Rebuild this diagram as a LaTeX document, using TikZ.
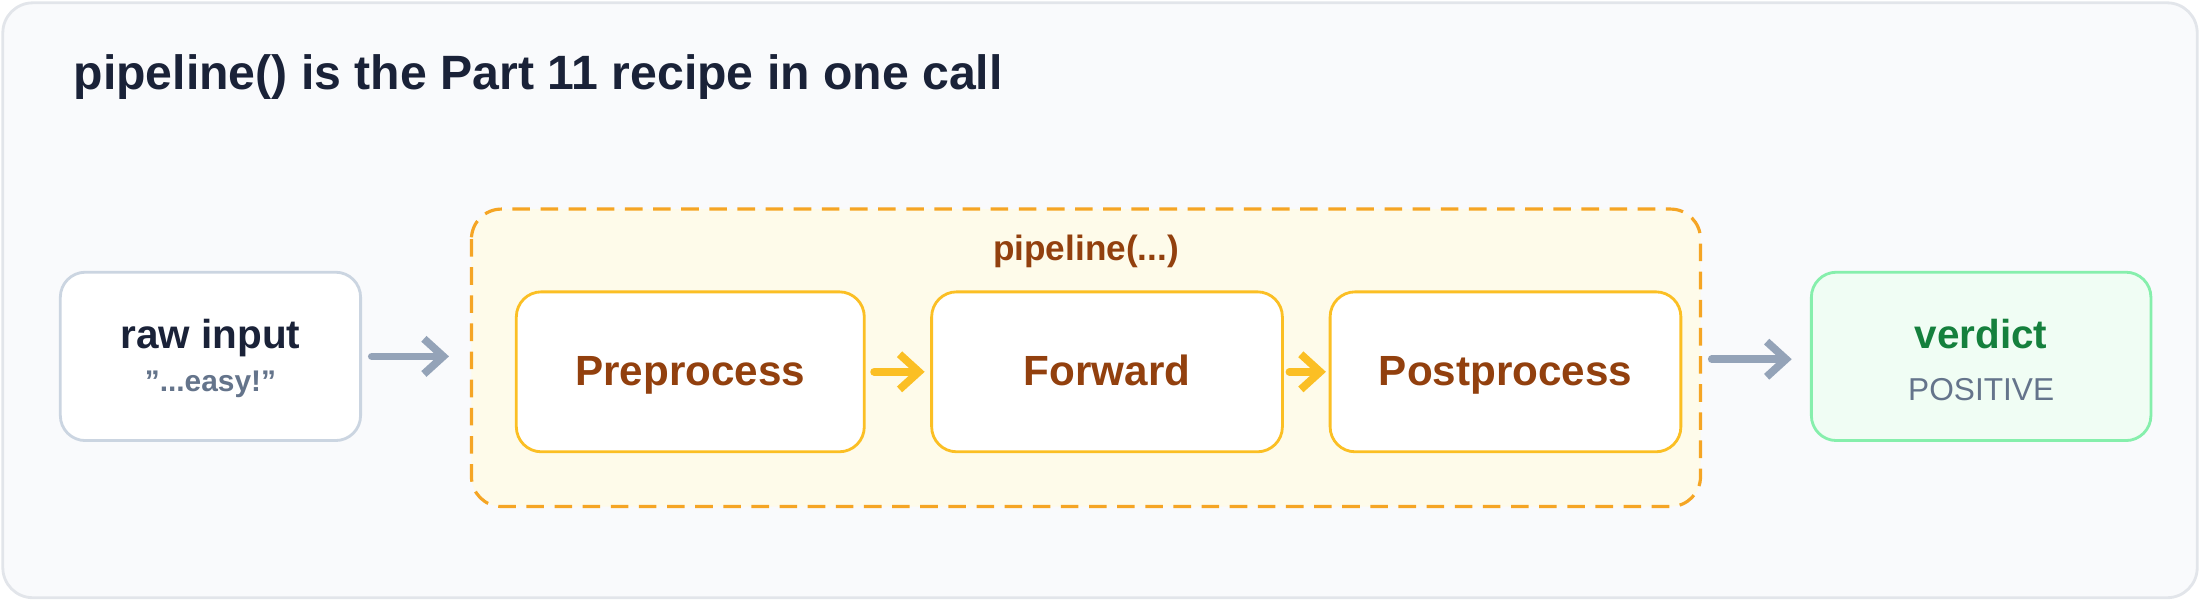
\documentclass[tikz,border=0pt]{standalone}
\usepackage{fontspec}
\setmainfont{Liberation Sans}
\usetikzlibrary{arrows.meta}
\definecolor{navy}{HTML}{1A2238}
\definecolor{brown}{HTML}{92400E}
\definecolor{slate}{HTML}{64748B}
\definecolor{grayarr}{HTML}{94A3B8}
\definecolor{yel}{HTML}{FBBF24}
\definecolor{org}{HTML}{F5A524}
\definecolor{grn}{HTML}{15803D}
\definecolor{bg}{HTML}{F9FAFC}
\definecolor{bgline}{HTML}{E2E5EA}
\definecolor{inbord}{HTML}{CBD5E1}
\definecolor{pipefill}{HTML}{FEFBEA}
\definecolor{vfill}{HTML}{F0FDF4}
\definecolor{vbord}{HTML}{86EFAC}
\begin{document}
\begin{tikzpicture}[x=0.01403cm,y=-0.01403cm,
 box/.style={draw, line width=0.8pt, rounded corners=0.25cm, fill=white},
 stage/.style={box, draw=yel},
 stagetxt/.style={text=brown, font=\bfseries\fontsize{12}{14}\selectfont, text height=9pt, text depth=2pt},
 garrow/.style={grayarr, line width=2.2pt, -{Straight Barb[length=5.5pt,width=10pt]}, line cap=round},
 yarrow/.style={yel, line width=2.2pt, -{Straight Barb[length=5.5pt,width=10pt]}, line cap=round}]
\useasboundingbox (0,0) rectangle (1568,428);
\draw[fill=bg, draw=bgline, line width=0.8pt, rounded corners=0.3cm] (2,2) rectangle (1566,426);
\node[anchor=west, inner sep=0pt, text=navy, font=\bfseries\fontsize{13.7}{16}\selectfont] (title) at (52,55) {pipeline() is the Part 11 recipe in one call};

\draw[box, draw=inbord] (43,194) rectangle (257,314);
\node[text=navy, font=\bfseries\fontsize{11.5}{14}\selectfont, text height=8.5pt, text depth=2.5pt] (rawt) at (150,241) {raw input};
\node[text=slate, font=\bfseries\fontsize{8.5}{10}\selectfont] (raws) at (150,274) {\symbol{34}...easy!\symbol{34}};
\coordinate (in) at (257,254);

\draw[fill=pipefill, draw=org, line width=0.9pt, dash pattern=on 5pt off 3pt, rounded corners=0.3cm] (336,149) rectangle (1212,361);
\node[text=brown, font=\bfseries\fontsize{10}{12}\selectfont] (pl) at (774,179) {pipeline(...)};

\draw[stage] (368,208) rectangle (616,322);
\node[stagetxt] (pre) at (492,266) {Preprocess};
\draw[stage] (664,208) rectangle (914,322);
\node[stagetxt] (fwd) at (789,266) {Forward};
\draw[stage] (948,208) rectangle (1198,322);
\node[stagetxt] (post) at (1073,266) {Postprocess};

\draw[box, draw=vbord, fill=vfill] (1291,194) rectangle (1533,314);
\node[text=grn, font=\bfseries\fontsize{11.5}{14}\selectfont, text height=8.5pt, text depth=2.5pt] (vt) at (1412,241) {verdict};
\node[text=slate, font=\fontsize{9}{11}\selectfont] (vs) at (1412,278) {POSITIVE};

\coordinate (a1s) at (265,254); \coordinate (a1e) at (320,254);
\coordinate (a2s) at (623,265); \coordinate (a2e) at (659,265);
\coordinate (a3s) at (919,265); \coordinate (a3e) at (945,265);
\coordinate (a4s) at (1220,256); \coordinate (a4e) at (1277,256);
\draw[garrow] (a1s) -- (a1e);
\draw[yarrow] (a2s) -- (a2e);
\draw[yarrow] (a3s) -- (a3e);
\draw[garrow] (a4s) -- (a4e);
\end{tikzpicture}
\end{document}
